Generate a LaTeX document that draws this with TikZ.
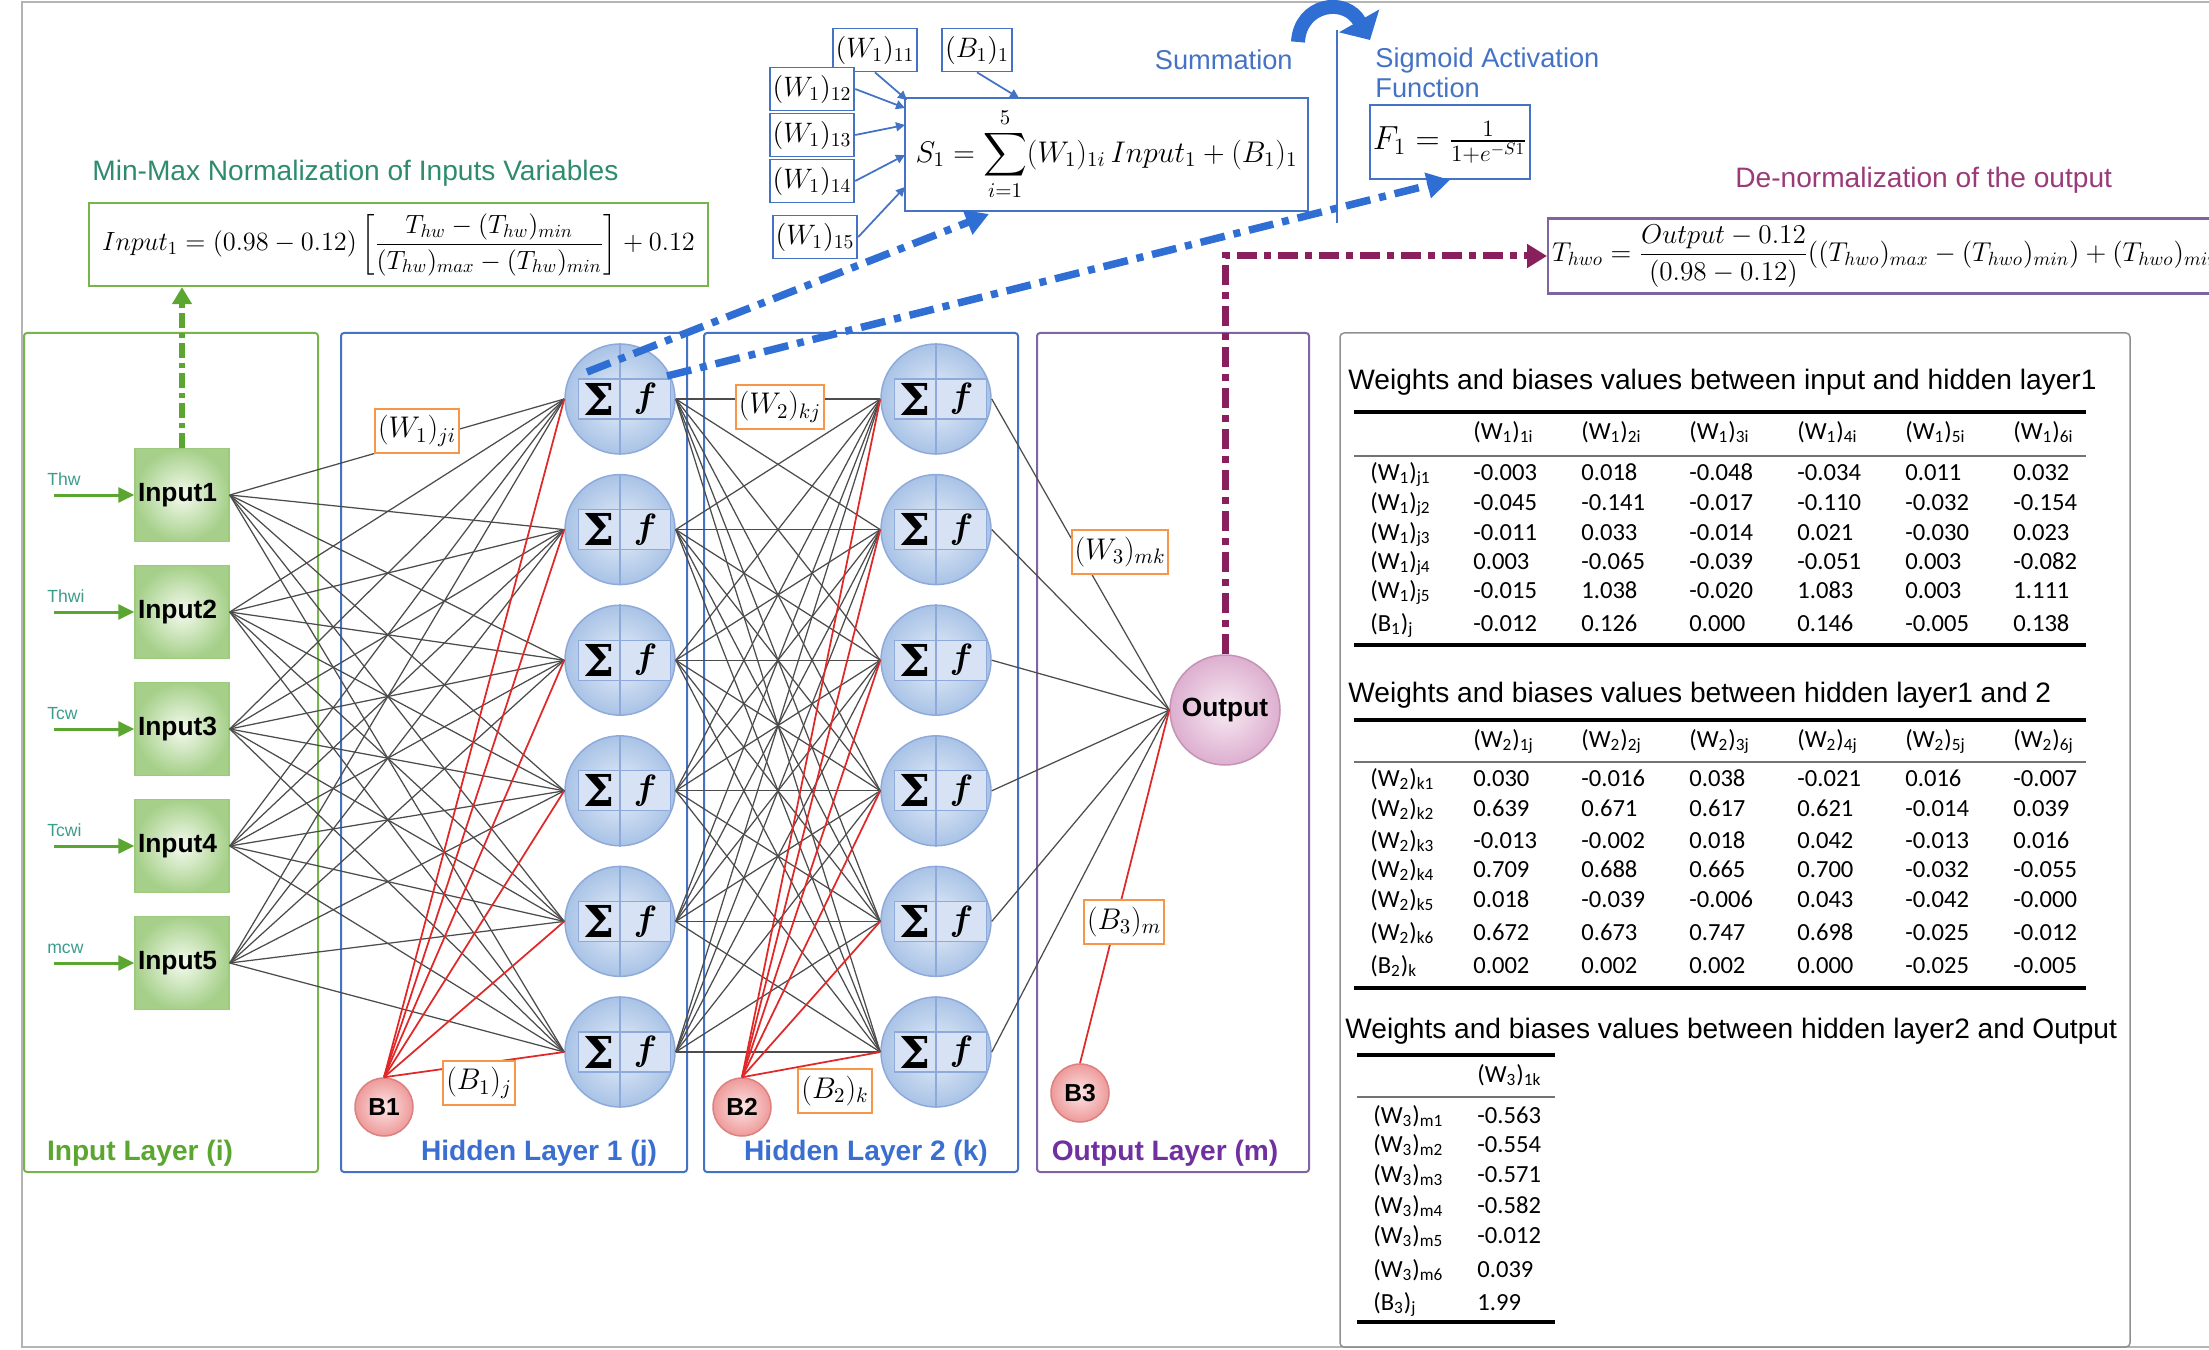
\documentclass[tikz,border=0pt]{standalone}
\usepackage{fix-cm}
\usepackage{amsmath,bm}
\usepackage{fontspec}
\newfontfamily\arial{Liberation Sans}
\newfontfamily\calib{Carlito}
\newfontfamily\sigfont{DejaVu Serif}
\usetikzlibrary{arrows.meta,calc}

\definecolor{frgreen}{HTML}{77B54A}
\definecolor{txgreen}{HTML}{5BA630}
\definecolor{mmteal}{HTML}{2E8B6E}
\definecolor{srcteal}{HTML}{3C9C8C}
\definecolor{frblue}{HTML}{4472C4}
\definecolor{txblue}{HTML}{3A6FCF}
\definecolor{frpurple}{HTML}{8064A2}
\definecolor{txpurple}{HTML}{7030A0}
\definecolor{wtorange}{HTML}{F79646}
\definecolor{nin}{HTML}{E6EEF9}
\definecolor{nout}{HTML}{A9C3E6}
\definecolor{nedge}{HTML}{8EAADB}
\definecolor{nbox}{HTML}{D7E3F4}
\definecolor{gin}{HTML}{F4FAEE}
\definecolor{gout}{HTML}{A6D08A}
\definecolor{gedge}{HTML}{9CCB7E}
\definecolor{biasred}{HTML}{E02828}
\definecolor{bin}{HTML}{FCE4E4}
\definecolor{bout}{HTML}{EE9A9A}
\definecolor{bedge}{HTML}{DD8080}
\definecolor{oin}{HTML}{F7EAF3}
\definecolor{oout}{HTML}{DDAFCF}
\definecolor{oedge}{HTML}{C493B5}
\definecolor{flowblue}{HTML}{2F6FD3}
\definecolor{flowpurple}{HTML}{8A1F5E}
\definecolor{dntitle}{HTML}{9A3A78}
\definecolor{framegray}{HTML}{B4B4B4}

\begin{document}
\begin{tikzpicture}[x=0.2mm, y=-0.2mm,
  layerframe/.style={rounded corners=0.6mm, line width=0.4mm},
  layerlabel/.style={font=\arial\bfseries\fontsize{16}{19}\selectfont, anchor=base, inner sep=0pt},
  inputbox/.style={rectangle, draw=gedge, line width=0.3mm, inner color=gin, outer color=gout,
    minimum width=18.8mm, minimum height=18.6mm, text width=17.6mm, align=left, inner sep=0.4mm,
    font=\arial\bfseries\fontsize{15}{18}\selectfont},
  srclabel/.style={text=srcteal, font=\arial\fontsize{10}{12}\selectfont, inner sep=0pt},
  feed/.style={draw=txgreen, line width=0.6mm, -{Triangle[length=3.2mm,width=3mm]}},
  neuron/.style={circle, draw=nedge, line width=0.3mm, inner color=nin, outer color=nout,
    minimum size=22mm, inner sep=0pt},
  sigmabox/.style={rectangle, draw=nedge, fill=nbox, line width=0.25mm, minimum width=8.2mm,
    minimum height=8mm, inner sep=0pt, font=\sigfont\bfseries\fontsize{25}{25}\selectfont},
  actbox/.style={sigmabox, minimum width=10mm, font=\fontsize{20}{20}\selectfont},
  biasnode/.style={circle, draw=bedge, line width=0.3mm, inner color=bin, outer color=bout,
    minimum size=11.6mm, inner sep=0pt, font=\arial\bfseries\fontsize{14}{16}\selectfont},
  outnode/.style={circle, draw=oedge, line width=0.3mm, inner color=oin, outer color=oout,
    minimum size=22mm, inner sep=0pt, font=\arial\bfseries\fontsize{15}{18}\selectfont},
  wire/.style={draw=black!70, line width=0.25mm},
  biaswire/.style={draw=biasred, line width=0.35mm},
  wlabel/.style={rectangle, draw=wtorange, fill=white, line width=0.4mm, inner xsep=0.6mm,
    inner ysep=0.4mm, minimum height=8.8mm, font=\fontsize{17}{20}\selectfont},
  plabel/.style={wlabel, draw=frblue, line width=0.35mm, minimum height=8.6mm, font=\fontsize{16}{19}\selectfont},
  formula/.style={rectangle, line width=0.45mm, fill=white, inner sep=0.6mm},
  thinarrow/.style={draw=frblue, line width=0.35mm, -{Triangle[length=1.8mm,width=1.8mm]}},
  flowdash/.style={draw=flowblue, line width=1.5mm, dash pattern=on 5mm off 1.8mm on 1.4mm off 1.8mm,
    -{Triangle[length=4.6mm,width=5mm]}},
  flowgreen/.style={draw=txgreen, line width=1.3mm, dash pattern=on 3mm off 1mm on 1mm off 1mm,
    -{Triangle[length=3.4mm,width=3.8mm]}},
  flowmag/.style={draw=flowpurple, line width=1.4mm, dash pattern=on 4mm off 1.4mm on 1.4mm off 1.4mm,
    -{Triangle[length=4mm,width=4.6mm]}},
  tabletitle/.style={anchor=base west, inner sep=0pt, font=\arial\fontsize{16}{19}\selectfont},
  cell/.style={anchor=base west, inner sep=0pt, font=\calib\fontsize{14}{17}\selectfont}]

\useasboundingbox (0,0) rectangle (2209,1350);
\clip (0,0) rectangle (2209,1350);

% outer frame and layer frames
\draw[framegray, line width=0.5mm] (22,2) rectangle (2300,1347);
\draw[layerframe, frgreen] (24,333) rectangle (318,1172);
\draw[layerframe, frblue] (341,333) rectangle (687,1172);
\draw[layerframe, frblue] (704,333) rectangle (1018,1172);
\draw[layerframe, frpurple] (1037,333) rectangle (1309,1172);
\draw[framegray!80!black, line width=0.3mm, rounded corners=0.8mm] (1340,333) rectangle (2130,1347);

\node[layerlabel, text=txgreen] (lin) at (140,1160) {Input Layer (i)};
\node[layerlabel, text=txblue] (lh1) at (539,1160) {Hidden Layer 1 (j)};
\node[layerlabel, text=txblue] (lh2) at (866,1160) {Hidden Layer 2 (k)};
\node[layerlabel, text=txpurple] (lout) at (1165,1160) {Output Layer (m)};

% inputs
\foreach \i/\src in {1/Thw,2/Thwi,3/Tcw,4/Tcwi,5/mcw} {
  \node[inputbox] (in\i) at (182,{495+117*(\i-1)}) {Input\i};
  \coordinate (src\i) at (54,{495+117*(\i-1)});
  \draw[feed] (src\i) -- (in\i.west);
  \node[srclabel, anchor=base west] (srclab\i) at (47,{485+117*(\i-1)}) {\src};
}

% hidden neurons
\foreach \l/\x in {1/620,2/936} {
  \foreach \k in {1,...,6} {
    \node[neuron] (h\l-\k) at (\x,{399+130.6*(\k-1)}) {};
    \draw[nedge, line width=0.25mm] (h\l-\k.north) -- (h\l-\k.south);
    \node[sigmabox, anchor=east] (sg\l-\k) at (h\l-\k.center) {Σ};
    \node[actbox, anchor=west] (ac\l-\k) at (h\l-\k.center) {$\bm{f}$};
  }
}

\node[outnode] (out) at (1225,710) {Output};
\node[biasnode] (b1) at (384,1107) {B1};
\node[biasnode] (b2) at (742,1107) {B2};
\node[biasnode] (b3) at (1080,1093) {B3};

% connections
\foreach \i in {1,...,5} \foreach \k in {1,...,6} \draw[wire] (in\i.east) -- (h1-\k.west);
\foreach \j in {1,...,6} \foreach \k in {1,...,6} \draw[wire] (h1-\j.east) -- (h2-\k.west);
\foreach \k in {1,...,6} {
  \draw[wire] (h2-\k.east) -- (out.west);
  \draw[biaswire] (b1.north) -- (h1-\k.west);
  \draw[biaswire] (b2.north) -- (h2-\k.west);
}
\draw[biaswire] (b3.north) -- (out.west);

% weight labels
\node[wlabel] (wji) at (417,431) {$(W_1)_{ji}$};
\node[wlabel] (bj) at (479,1083) {$(B_1)_j$};
\node[wlabel] (wkj) at (780,407) {$(W_2)_{kj}$};
\node[wlabel] (bk) at (835,1091) {$(B_2)_k$};
\node[wlabel] (wmk) at (1120,552) {$(W_3)_{mk}$};
\node[wlabel] (bm) at (1124,922) {$(B_3)_m$};

% normalization of inputs
\node[anchor=base west, text=mmteal, font=\arial\fontsize{16}{19}\selectfont, inner sep=0pt] (normtitle)
  at (92,181) {Min-Max Normalization of Inputs Variables};
\node[formula, draw=frgreen, minimum width=123.8mm, minimum height=16.6mm, font=\fontsize{15}{18}\selectfont]
  (norm) at (398.5,244.5)
  {$\displaystyle Input_1 = (0.98-0.12)\left[\frac{T_{hw}-(T_{hw})_{min}}{(T_{hw})_{max}-(T_{hw})_{min}}\right]+0.12$};
\draw[flowgreen] (in1.north) -- (in1.north |- norm.south);

% summation
\node[formula, draw=frblue, line width=0.35mm, minimum width=80.6mm, minimum height=22.6mm,
  font=\fontsize{17}{20}\selectfont] (sumbox) at (1106.5,154.5)
  {$\displaystyle S_1 = \sum_{i=1}^{5}(W_1)_{1i}\,Input_1 + (B_1)_1$};
\node[plabel] (w11) at (875,50) {$(W_1)_{11}$};
\node[plabel] (b11) at (977,50) {$(B_1)_1$};
\node[plabel] (w12) at (812,89) {$(W_1)_{12}$};
\node[plabel] (w13) at (812,135) {$(W_1)_{13}$};
\node[plabel] (w14) at (812,181) {$(W_1)_{14}$};
\node[plabel] (w15) at (815,237) {$(W_1)_{15}$};
\coordinate (s11) at (907,100);
\coordinate (s12) at (905,108);
\coordinate (s13) at (905,125);
\coordinate (s14) at (905,155);
\coordinate (s15) at (905,187);
\coordinate (sb1) at (1019,98);
\draw[thinarrow] (w11.south) -- (s11);
\draw[thinarrow] (w12.east) -- (s12);
\draw[thinarrow] (w13.east) -- (s13);
\draw[thinarrow] (w14.east) -- (s14);
\draw[thinarrow] (w15.east) -- (s15);
\draw[thinarrow] (b11.south) -- (sb1);
\node[anchor=base east, text=frblue, font=\arial\fontsize{15.5}{18}\selectfont, inner sep=0pt] (sumtitle)
  at (1293,70) {Summation};

% sigmoid
\draw[frblue, line width=0.5mm] (1337,30) -- (1337,223);
\draw[flowblue, line width=2.8mm, -{Triangle[length=4.4mm,width=9mm]}] (1298,42)
  .. controls (1300,4) and (1345,-4) .. (1370,40);
\node[anchor=base west, text=frblue, font=\arial\fontsize{15.5}{18}\selectfont, inner sep=0pt] (sigtitle1)
  at (1375,68) {Sigmoid Activation};
\node[anchor=base west, text=frblue, font=\arial\fontsize{15.5}{18}\selectfont, inner sep=0pt] (sigtitle2)
  at (1375,98) {Function};
\node[formula, draw=frblue, line width=0.35mm, minimum width=31.6mm, minimum height=14.8mm,
  font=\fontsize{19}{22}\selectfont] (sigbox) at (1450,142) {$F_1 = \frac{1}{1+e^{-S1}}$};

\coordinate (sumin) at (989,214);
\draw[flowdash] ($(h1-1.center)+(-33,-27)$) -- (sumin);
\draw[flowdash] ($(h1-1.center)+(47,-23)$) -- (sigbox.south);

% de-normalization
\node[anchor=base west, text=dntitle, font=\arial\fontsize{16}{19}\selectfont, inner sep=0pt] (dntitle)
  at (1735,188) {De-normalization of the output};
\node[formula, draw=frpurple, anchor=west, minimum height=15mm, font=\fontsize{15.5}{18}\selectfont,
  inner xsep=0.8mm] (dnbox) at (1547,256)
  {$\displaystyle T_{hwo} = \frac{Output-0.12}{(0.98-0.12)}((T_{hwo})_{max}-(T_{hwo})_{min})+(T_{hwo})_{min}$\hspace*{12mm}\mbox{}};
\draw[flowmag] (out.north) |- (dnbox.west);

% table 1
\node[tabletitle] (tt1) at (1348,389) {Weights and biases values between input and hidden layer1};
\draw[line width=0.8mm] (1354,412) -- (2086,412);
\draw[black!55, line width=0.35mm] (1354,456) -- (2086,456);
\draw[line width=0.8mm] (1354,645) -- (2086,645);
\foreach \col in {1,...,6}
  \node[cell] (tha-\col) at ({1473+108*(\col-1)},439) {(W\textsubscript{1})\textsubscript{\col i}};
\foreach \y/\lab/\vals [count=\r] in {
  480/{(W\textsubscript{1})\textsubscript{j1}}/{-0.003,0.018,-0.048,-0.034,0.011,0.032},
  510/{(W\textsubscript{1})\textsubscript{j2}}/{-0.045,-0.141,-0.017,-0.110,-0.032,-0.154},
  540/{(W\textsubscript{1})\textsubscript{j3}}/{-0.011,0.033,-0.014,0.021,-0.030,0.023},
  569/{(W\textsubscript{1})\textsubscript{j4}}/{0.003,-0.065,-0.039,-0.051,0.003,-0.082},
  598/{(W\textsubscript{1})\textsubscript{j5}}/{-0.015,1.038,-0.020,1.083,0.003,1.111},
  631/{(B\textsubscript{1})\textsubscript{j}}/{-0.012,0.126,0.000,0.146,-0.005,0.138}} {
  \node[cell] (rla-\r) at (1370,\y) {\lab};
  \foreach \v [count=\col] in \vals \node[cell] (va-\r-\col) at ({1473+108*(\col-1)},\y) {\v};
}

% table 2
\node[tabletitle] (tt2) at (1348,702) {Weights and biases values between hidden layer1 and 2};
\draw[line width=0.8mm] (1354,720) -- (2086,720);
\draw[black!55, line width=0.35mm] (1354,762) -- (2086,762);
\draw[line width=0.8mm] (1354,988) -- (2086,988);
\foreach \col in {1,...,6}
  \node[cell] (thb-\col) at ({1473+108*(\col-1)},747) {(W\textsubscript{2})\textsubscript{\col j}};
\foreach \y/\lab/\vals [count=\r] in {
  786/{(W\textsubscript{2})\textsubscript{k1}}/{0.030,-0.016,0.038,-0.021,0.016,-0.007},
  816/{(W\textsubscript{2})\textsubscript{k2}}/{0.639,0.671,0.617,0.621,-0.014,0.039},
  848/{(W\textsubscript{2})\textsubscript{k3}}/{-0.013,-0.002,0.018,0.042,-0.013,0.016},
  877/{(W\textsubscript{2})\textsubscript{k4}}/{0.709,0.688,0.665,0.700,-0.032,-0.055},
  907/{(W\textsubscript{2})\textsubscript{k5}}/{0.018,-0.039,-0.006,0.043,-0.042,-0.000},
  940/{(W\textsubscript{2})\textsubscript{k6}}/{0.672,0.673,0.747,0.698,-0.025,-0.012},
  973/{(B\textsubscript{2})\textsubscript{k}}/{0.002,0.002,0.002,0.000,-0.025,-0.005}} {
  \node[cell] (rlb-\r) at (1370,\y) {\lab};
  \foreach \v [count=\col] in \vals \node[cell] (vb-\r-\col) at ({1473+108*(\col-1)},\y) {\v};
}

% table 3
\node[tabletitle] (tt3) at (1345,1038) {Weights and biases values between hidden layer2 and Output};
\draw[line width=0.8mm] (1357,1055) -- (1555,1055);
\draw[black!55, line width=0.35mm] (1357,1097) -- (1555,1097);
\draw[line width=0.8mm] (1357,1322) -- (1555,1322);
\node[cell] (thc-1) at (1477,1082) {(W\textsubscript{3})\textsubscript{1k}};
\foreach \y/\lab/\v [count=\r] in {
  1123/{(W\textsubscript{3})\textsubscript{m1}}/-0.563,
  1152/{(W\textsubscript{3})\textsubscript{m2}}/-0.554,
  1182/{(W\textsubscript{3})\textsubscript{m3}}/-0.571,
  1213/{(W\textsubscript{3})\textsubscript{m4}}/-0.582,
  1243/{(W\textsubscript{3})\textsubscript{m5}}/-0.012,
  1277/{(W\textsubscript{3})\textsubscript{m6}}/0.039,
  1310/{(B\textsubscript{3})\textsubscript{j}}/1.99} {
  \node[cell] (rlc-\r) at (1373,\y) {\lab};
  \node[cell] (vc-\r) at (1477,\y) {\v};
}
\end{tikzpicture}
\end{document}
